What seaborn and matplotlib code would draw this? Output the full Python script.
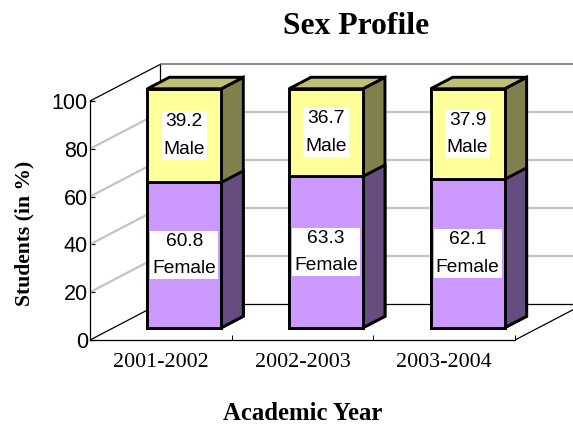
import pandas as pd
import seaborn as sns
import matplotlib.pyplot as plt
from matplotlib.patches import Polygon

years = ['2001-2002', '2002-2003', '2003-2004']
female = [60.8, 63.3, 62.1]
male = [39.2, 36.7, 37.9]
y_ticks = [0, 20, 40, 60, 80, 100]

W, H = 573, 425
AX_L, AX_B, AX_W, AX_H = 90, 85, 425, 239
# oblique 3D look: how far one unit of depth moves things, in data units
DEPTH_X = 70 / (AX_W / 3)
DEPTH_Y = 36.5 / (AX_H / 100)
BAR_FRONT = 0.335
BAR_BACK = 0.65
EDGE = 2.1

sns.set_style('white')
plt.rcParams['font.family'] = ['Liberation Sans']
plt.rcParams['text.color'] = 'black'
plt.rcParams['xtick.color'] = 'black'
plt.rcParams['ytick.color'] = 'black'
serif = 'Liberation Serif'

df = pd.DataFrame({'year': years, 'female': female, 'male': male})
df['total'] = df['female'] + df['male']

fig = plt.figure(figsize=(W / 100, H / 100), dpi=100)
ax = fig.add_axes([AX_L / W, AX_B / H, AX_W / W, AX_H / H])


def proj(x, y, depth):
    return x + depth * DEPTH_X, y + depth * DEPTH_Y


def line3d(p1, p2, **kw):
    ax.plot([p1[0], p2[0]], [p1[1], p2[1]], clip_on=False, solid_capstyle='butt', **kw)


sns.barplot(data=df, x='year', y='total', color='#FFFF99', width=0.522, saturation=1,
            edgecolor='black', linewidth=EDGE, ax=ax, zorder=5)
n_male = len(ax.patches)
sns.barplot(data=df, x='year', y='female', color='#CC99FF', width=0.522, saturation=1,
            edgecolor='black', linewidth=EDGE, ax=ax, zorder=6)
male_bars = ax.patches[:n_male]
female_bars = ax.patches[n_male:]

ax.set_xlim(-0.5, 2.5)
ax.set_ylim(0, 100)

# walls and floor
x0, x1 = -0.5, 2.5
for v in y_ticks[1:-1]:
    line3d(proj(x0, v, 0), proj(x0, v, 1), color='#C4C4C4', lw=1.6, zorder=1)
    line3d(proj(x0, v, 1), proj(x1, v, 1), color='#C4C4C4', lw=1.6, zorder=1)
line3d(proj(x0, 100, 0), proj(x0, 100, 1), color='black', lw=0.9, zorder=2)
line3d(proj(x0, 100, 1), proj(x1, 100, 1), color='#6E6E6E', lw=1.1, zorder=2)
line3d(proj(x0, 0, 1), proj(x0, 100, 1), color='black', lw=0.9, zorder=2)
line3d(proj(x0, 0, 0), proj(x0, 0, 1), color='black', lw=0.9, zorder=2)
line3d(proj(x1, 0, 0), proj(x1, 0, 1), color='black', lw=0.9, zorder=2)
line3d(proj(x0, 0, 1), proj(x1, 0, 1), color='black', lw=0.9, zorder=2)


def box_side(bar, side_col, z):
    x, w = bar.get_x(), bar.get_width()
    lo, hi = bar.get_y(), bar.get_y() + bar.get_height()
    side = [proj(x + w, lo, BAR_FRONT), proj(x + w, lo, BAR_BACK),
            proj(x + w, hi, BAR_BACK), proj(x + w, hi, BAR_FRONT)]
    ax.add_patch(Polygon(side, closed=True, facecolor=side_col, edgecolor='black', lw=EDGE,
                         joinstyle='miter', clip_on=False, zorder=z))


def box_top(bar, top_col, z):
    x, w = bar.get_x(), bar.get_width()
    hi = bar.get_y() + bar.get_height()
    top = [proj(x, hi, BAR_FRONT), proj(x + w, hi, BAR_FRONT),
           proj(x + w, hi, BAR_BACK), proj(x, hi, BAR_BACK)]
    ax.add_patch(Polygon(top, closed=True, facecolor=top_col, edgecolor='black', lw=EDGE,
                         joinstyle='miter', clip_on=False, zorder=z))


for i in range(len(years)):
    box_side(male_bars[i], '#80804D', 4)
    box_top(male_bars[i], '#BFBF73', 4)
    box_side(female_bars[i], '#664D80', 4.5)

# move the front faces to their depth and label them
for bars, values, name in ((female_bars, female, 'Female'), (male_bars, male, 'Male')):
    for bar, val in zip(bars, values):
        x, y = proj(bar.get_x(), bar.get_y(), BAR_FRONT)
        bar.set_x(x)
        bar.set_y(y)
        bar.set_clip_on(False)
        bar.set_joinstyle('miter')
        top = y + bar.get_height()
        mid = top - val / 2
        ax.text(x + bar.get_width() / 2, mid, f'{val}\n{name}', ha='center', va='center',
                fontsize=13.8, linespacing=1.8, zorder=8, clip_on=False,
                bbox=dict(facecolor='white', edgecolor='none', pad=1.5))

# axes
sns.despine(ax=ax, top=True, right=True)
for s in ('left', 'bottom'):
    ax.spines[s].set_color('black')
    ax.spines[s].set_linewidth(0.9)
ax.set_yticks(y_ticks)
ax.tick_params(axis='y', which='major', direction='in', length=3.5, width=0.9, color='black',
               left=True, labelsize=15.5, pad=1.5)
ax.set_xticks(range(len(years)))
ax.set_xticklabels(years, fontfamily=serif, fontsize=15.8)
ax.set_xticks([0.5, 1.5, 2.5], minor=True)
ax.tick_params(axis='x', which='major', length=0, pad=9.5)
ax.tick_params(axis='x', which='minor', direction='in', bottom=True, length=3.5, width=0.7, color='black')
ax.set_xlabel('')
ax.set_ylabel('')

fig.text(356.5 / W, 1 - 27 / H, 'Sex Profile', fontfamily=serif, fontweight='bold', fontsize=22.8,
         ha='center', va='center')
fig.text(24 / W, 1 - 233 / H, 'Students (in %)', fontfamily=serif, fontweight='bold', fontsize=15.6,
         rotation=90, ha='center', va='center')
fig.text(303 / W, 1 - 414 / H, 'Academic Year', fontfamily=serif, fontweight='bold', fontsize=17.8,
         ha='center', va='center')

fig.savefig('out.png', dpi=100)
plt.close()
